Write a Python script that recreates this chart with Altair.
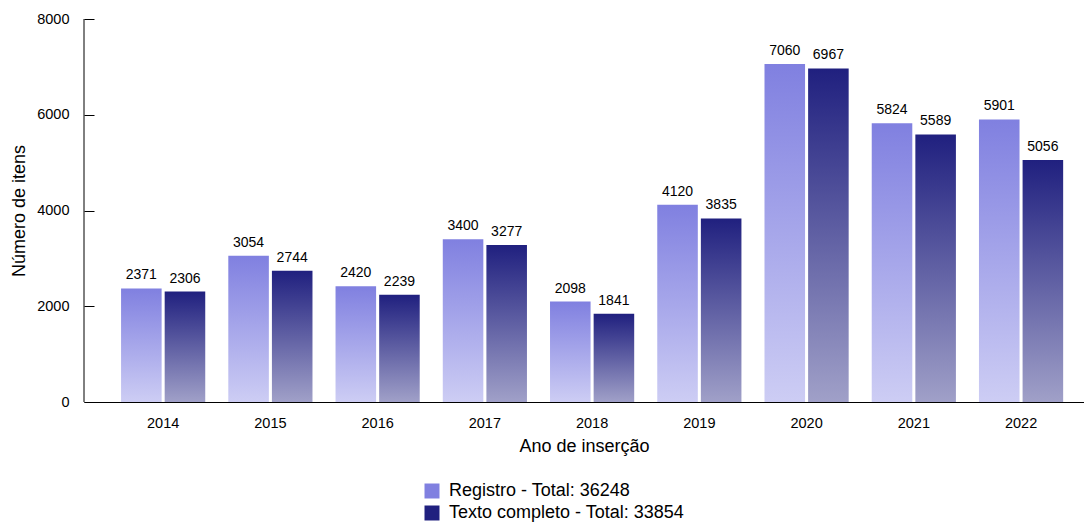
import altair as alt
import pandas as pd

years = ["2014", "2015", "2016", "2017", "2018", "2019", "2020", "2021", "2022"]
registro = [2371, 3054, 2420, 3400, 2098, 4120, 7060, 5824, 5901]
texto = [2306, 2744, 2239, 3277, 1841, 3835, 6967, 5589, 5056]
series_names = ["Registro", "Texto completo"]
series_values = [registro, texto]
top_colors = ["#8080e0", "#20207f"]
bottom_colors = ["#cdcdf4", "#a0a0c8"]
y_ticks = [0, 2000, 4000, 6000, 8000]

legend_labels = [f"{s} - Total: {sum(v)}" for s, v in zip(series_names, series_values)]

rows = []
for s, vals, lab in zip(series_names, series_values, legend_labels):
    for yr, v in zip(years, vals):
        rows.append({"ano": yr, "serie": s, "valor": v, "legenda": lab})
df = pd.DataFrame(rows)

FONT = "Liberation Sans"

x_enc = alt.X(
    "ano:N",
    sort=years,
    scale=alt.Scale(paddingInner=0.215, paddingOuter=0.27, align=0.64),
    axis=alt.Axis(
        title="Ano de inserção",
        labelAngle=0,
        ticks=False,
        tickSize=0,
        labelPadding=14,
        domainColor="black",
        domainWidth=1,
        labelFontSize=14.5,
        titleFontSize=18,
        titleFontWeight="normal",
        titlePadding=8,
        labelColor="black",
        titleColor="black",
    ),
)
xo_enc = alt.XOffset(
    "serie:N", scale=alt.Scale(domain=series_names, paddingInner=0.07, paddingOuter=0)
)
y_enc = alt.Y(
    "valor:Q",
    scale=alt.Scale(domain=[0, 8000], nice=False),
    axis=alt.Axis(
        values=y_ticks,
        format="d",
        title="Número de itens",
        grid=False,
        offset=-10,
        tickSize=10,
        tickColor="black",
        domain=False,
        labelPadding=15,
        labelFontSize=14.5,
        titleFontSize=18,
        titleFontWeight="normal",
        titlePadding=8,
        labelColor="black",
        titleColor="black",
    ),
)

base = alt.Chart(df)

bar_layers = []
for s, tc, bc in zip(series_names, top_colors, bottom_colors):
    grad = alt.Gradient(
        gradient="linear",
        stops=[alt.GradientStop(color=tc, offset=0), alt.GradientStop(color=bc, offset=1)],
        x1=0, x2=0, y1=0, y2=1,
    )
    bar_layers.append(
        base.transform_filter(alt.datum.serie == s)
        .mark_bar(fill=grad, stroke=None)
        .encode(x=x_enc, xOffset=xo_enc, y=y_enc)
    )

text_layer = base.mark_text(dy=-9, baseline="alphabetic", fontSize=14, color="black", font=FONT).encode(
    x=x_enc, xOffset=xo_enc, y=y_enc, text=alt.Text("valor:Q", format="d")
)

legend_layer = base.mark_point(shape="square", filled=True, opacity=0).encode(
    x=x_enc,
    xOffset=xo_enc,
    y=y_enc,
    color=alt.Color(
        "legenda:N",
        scale=alt.Scale(domain=legend_labels, range=top_colors),
        legend=alt.Legend(
            title=None,
            orient="none",
            legendX=339,
            legendY=463,
            direction="vertical",
            symbolType="square",
            symbolSize=225,
            symbolOpacity=1,
            symbolStrokeWidth=0,
            labelFontSize=18,
            labelOffset=8,
            labelLimit=0,
            labelColor="black",
            rowPadding=4,
            padding=0,
        ),
    ),
)

yaxis_line = alt.Chart(pd.DataFrame({"k": [0]})).mark_rule(color="black", strokeWidth=1).encode(
    x=alt.value(0), y=alt.value(0), y2=alt.value(383)
)

chart = (
    alt.layer(*bar_layers, text_layer, legend_layer, yaxis_line)
    .properties(
        width=1000,
        height=383,
        autosize=alt.AutoSizeParams(type="none"),
        padding={"left": 76, "top": 11, "right": 0, "bottom": 120},
    )
    .configure(font=FONT)
    .configure_view(stroke=None)
)

chart.save("out.html", embed_options={"renderer": "svg", "actions": False})
